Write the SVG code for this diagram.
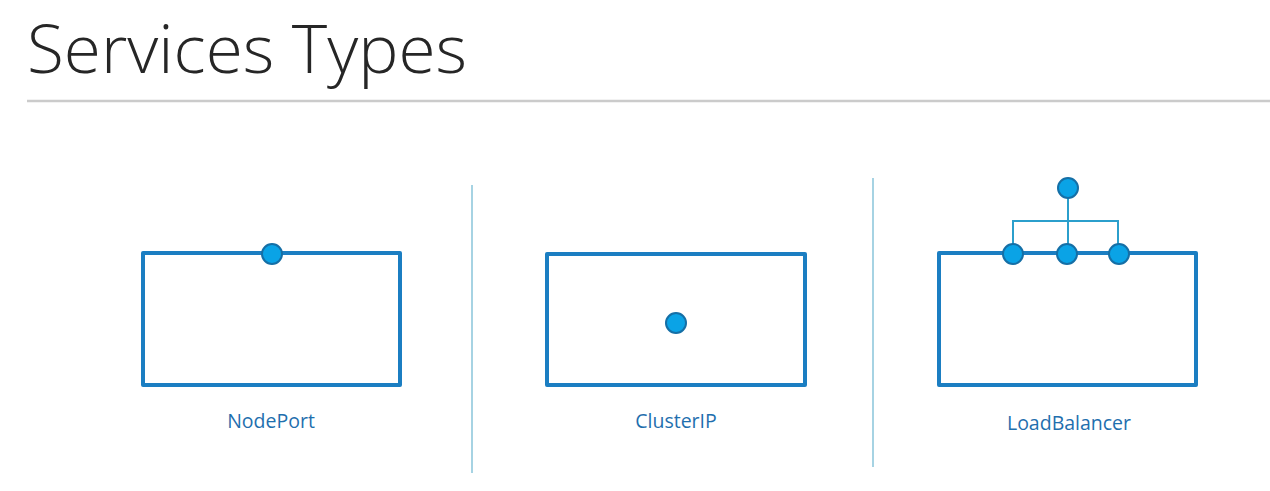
<svg xmlns="http://www.w3.org/2000/svg" width="1270" height="491" viewBox="0 0 1270 491">
<style>
.box{fill:#ffffff;stroke:#1b7ec2;stroke-width:4;stroke-linejoin:round}
.dot{fill:#0aa3e6;stroke:#156fa6;stroke-width:2}
.lbl{font-family:"Open Sans","Liberation Sans",sans-serif;font-size:19.5px;font-weight:500;fill:#1f6fae;text-anchor:middle}
.div{stroke:#a6d3e3;stroke-width:2}
.wire{fill:none;stroke:#2b9fcc;stroke-width:2}
</style>
<rect width="1270" height="491" fill="#ffffff"/>
<text x="27" y="73" font-family="'Open Sans','Liberation Sans',sans-serif" font-weight="300" font-size="66" fill="#262626" textLength="440" lengthAdjust="spacingAndGlyphs">Services Types</text>
<line x1="27" y1="101" x2="1270" y2="101" stroke="#cbcbcb" stroke-width="2.5"/>
<g id="dividers">
<line class="div" x1="472" y1="185" x2="472" y2="473"/>
<line class="div" x1="873" y1="178" x2="873" y2="467"/>
</g>
<g id="connectors">
<path class="wire" d="M1068 188 V254 M1013 254 V221 H1118 V254"/>
</g>
<g id="nodeport">
<rect class="box" x="143" y="253" width="257" height="132"/>
<circle class="dot" cx="272" cy="254" r="10"/>
<text class="lbl" x="271" y="428">NodePort</text>
</g>
<g id="clusterip">
<rect class="box" x="547" y="254" width="258" height="131"/>
<circle class="dot" cx="676" cy="323" r="10"/>
<text class="lbl" x="676" y="428">ClusterIP</text>
</g>
<g id="loadbalancer">
<rect class="box" x="939" y="253" width="257" height="132"/>
<circle class="dot" cx="1068" cy="188" r="10"/>
<circle class="dot" cx="1013" cy="254" r="10"/>
<circle class="dot" cx="1067" cy="254" r="10"/>
<circle class="dot" cx="1119" cy="254" r="10"/>
<text class="lbl" x="1069" y="430">LoadBalancer</text>
</g>
</svg>
